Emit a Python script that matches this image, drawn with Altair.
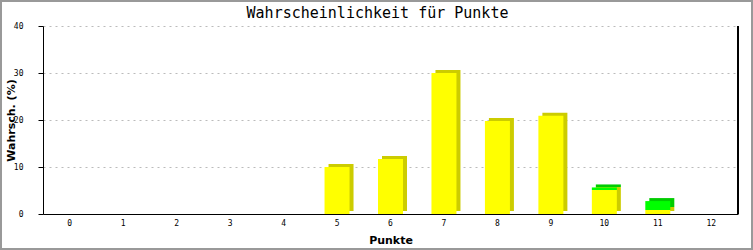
import altair as alt
import pandas as pd

titel = "Wahrscheinlichkeit für Punkte"
punkte = [str(i) for i in range(13)]
gelb = [0, 0, 0, 0, 0, 10.0, 11.7, 30.0, 19.8, 20.9, 5.1, 0.85, 0]
gruen = [0, 0, 0, 0, 0, 0, 0, 0, 0, 0, 0.55, 1.9, 0]
serien = ["A", "B"]

rows = []
for p, g, r in zip(punkte, gelb, gruen):
    rows.append({"Punkte": p, "Serie": serien[0], "Wert": g, "ord": 0})
    rows.append({"Punkte": p, "Serie": serien[1], "Wert": r, "ord": 1})
df = pd.DataFrame(rows)
one = pd.DataFrame({"t": [titel]})

W, H = 695, 188
PADL, PADT, PADR, PADB = 43, 26, 15, 36

xenc = alt.X("Punkte:O", sort=punkte, scale=alt.Scale(paddingInner=0.53, paddingOuter=0.265),
             axis=alt.Axis(title="Punkte", labelAngle=0, ticks=False, domainColor="black",
                           labelFont="DejaVu Sans Mono", labelFontSize=8, labelColor="black",
                           labelPadding=5, titleFont="DejaVu Sans", titleFontSize=11,
                           titleFontWeight="bold", titleColor="black", titleY=26,
                           titleBaseline="middle", grid=False))
yenc = alt.Y("Wert:Q", stack="zero", scale=alt.Scale(domain=[0, 40], nice=False),
             axis=alt.Axis(title="Wahrsch. (%)", values=[0, 10, 20, 30, 40], tickSize=5,
                           tickColor="black", domainColor="black", labelPadding=15,
                           labelFont="DejaVu Sans Mono", labelFontSize=8, labelColor="black",
                           titleFont="DejaVu Sans", titleFontSize=11, titleFontWeight="bold",
                           titleColor="black", titleAngle=-90, titleX=-32, titleY=H / 2,
                           titleAlign="center", titleBaseline="middle",
                           grid=True, gridColor="#bbbbbb", gridDash=[2, 4]))

back = alt.Chart(df).mark_bar(size=25, xOffset=4, yOffset=-3).encode(
    x=xenc, y=yenc,
    color=alt.Color("Serie:N", scale=alt.Scale(domain=serien, range=["#cccc00", "#00cc00"]), legend=None),
    order=alt.Order("ord:Q"),
)
front = alt.Chart(df).mark_bar(size=25).encode(
    x=xenc, y=yenc,
    color=alt.Color("Serie:N", scale=alt.Scale(domain=serien, range=["#ffff00", "#00ff00"]), legend=None),
    order=alt.Order("ord:Q"),
)

right_line = alt.Chart(df).mark_rule(color="black").encode(
    x=alt.value(W), y=alt.value(0), y2=alt.value(H)
)
frame = alt.Chart(df).mark_rect(fill=None, stroke="#999999", strokeWidth=2).encode(
    x=alt.value(-PADL + 1), x2=alt.value(W + PADR - 1),
    y=alt.value(-PADT + 1), y2=alt.value(H + PADB - 1)
)
title_mark = alt.Chart(one).mark_text(font="DejaVu Sans Mono", fontSize=15, color="black",
                                      align="center", baseline="middle").encode(
    x=alt.value(W / 2 - 13), y=alt.value(-13), text="t:N"
)

chart = alt.layer(back, front, right_line, frame, title_mark).resolve_scale(color="independent").properties(
    width=W, height=H,
    autosize=alt.AutoSizeParams(type="none"),
    padding={"left": PADL, "top": PADT, "right": PADR, "bottom": PADB},
    background="white",
).configure_view(stroke=None)

chart.save("out.html", embed_options={"renderer": "svg", "actions": False})
